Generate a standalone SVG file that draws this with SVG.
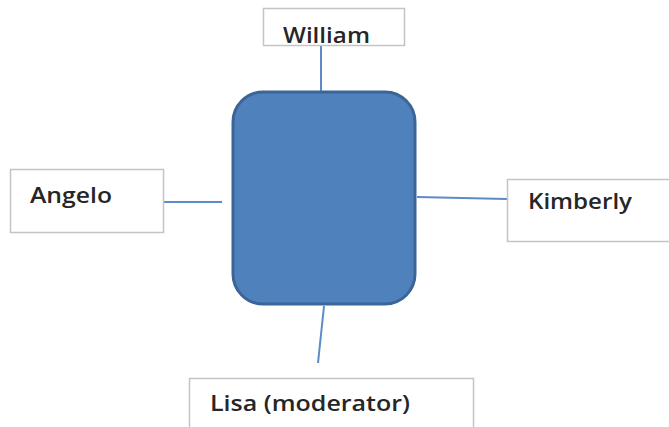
<svg xmlns="http://www.w3.org/2000/svg" width="669" height="427" viewBox="0 0 669 427">
<style>
.box{fill:#fff;stroke:#c4c4c4;stroke-width:1.5}
.lbl{font-family:"Open Sans","Liberation Sans",sans-serif;font-size:21px;font-weight:600;fill:#262626}
.con{stroke:#5b8cc8;stroke-width:2;fill:none}
</style>
<rect width="669" height="427" fill="#fff"/>
<g id="connectors">
<line class="con" x1="321" y1="46" x2="321" y2="92"/>
<line class="con" x1="164" y1="202" x2="222" y2="202"/>
<line class="con" x1="417" y1="197" x2="507" y2="199"/>
<line class="con" x1="324" y1="306" x2="318" y2="363"/>
</g>
<g id="center">
<rect x="233" y="92" width="182" height="212" rx="30" ry="30" fill="#4f81bd" stroke="#3b6497" stroke-width="3"/>
</g>
<g id="william">
<rect class="box" x="263.5" y="8.5" width="141" height="37"/>
<text class="lbl" x="283" y="43" textLength="87" lengthAdjust="spacingAndGlyphs">William</text>
</g>
<g id="angelo">
<rect class="box" x="10.5" y="169.5" width="153" height="63"/>
<text class="lbl" x="30" y="203" textLength="82" lengthAdjust="spacingAndGlyphs">Angelo</text>
</g>
<g id="kimberly">
<rect class="box" x="507.5" y="179.5" width="170" height="62"/>
<text class="lbl" x="528" y="209" textLength="104" lengthAdjust="spacingAndGlyphs">Kimberly</text>
</g>
<g id="lisa">
<rect class="box" x="189.5" y="378.5" width="284" height="60"/>
<text class="lbl" x="210" y="411" textLength="200" lengthAdjust="spacingAndGlyphs">Lisa (moderator)</text>
</g>
</svg>
